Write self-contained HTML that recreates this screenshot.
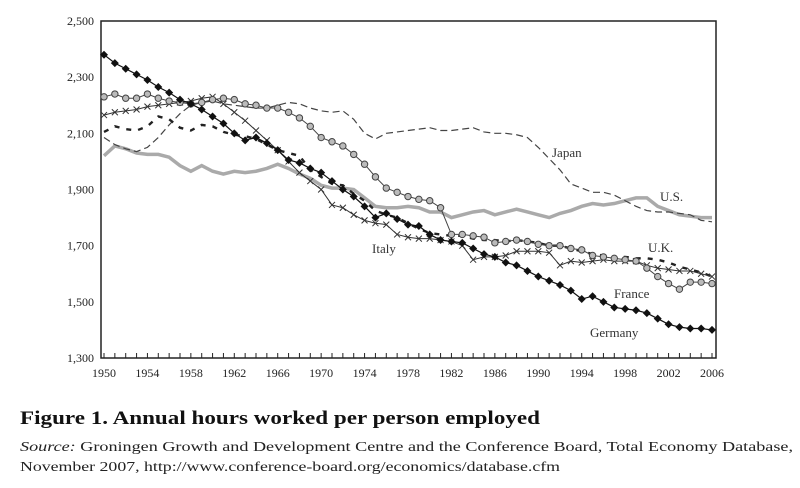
<!DOCTYPE html>
<html><head><meta charset="utf-8"><style>
html,body{margin:0;padding:0;background:#fff;}
svg{display:block;font-family:"Liberation Serif",serif;}
</style></head><body>
<svg id="chart" width="800" height="488" viewBox="0 0 800 488" xmlns="http://www.w3.org/2000/svg">
<rect x="101" y="21" width="615" height="337" fill="none" stroke="#222" stroke-width="1.5"/>
<g id="axes"></g>
<g id="series"></g>
<g font-size="13" fill="#333">
<text x="552" y="157">Japan</text>
<text x="660" y="201">U.S.</text>
<text x="648" y="252">U.K.</text>
<text x="614" y="298">France</text>
<text x="590" y="337">Germany</text>
<text x="372" y="253">Italy</text>
</g>
<text x="20" y="424" font-size="19" font-weight="bold" textLength="520" lengthAdjust="spacingAndGlyphs" fill="#111">Figure 1.  Annual hours worked per person employed</text>
<text x="20" y="451" font-size="14" textLength="773" lengthAdjust="spacingAndGlyphs" fill="#222"><tspan font-style="italic">Source:</tspan> Groningen Growth and Development Centre and the Conference Board, Total Economy Database,</text>
<text x="20" y="471" font-size="14" textLength="540" lengthAdjust="spacingAndGlyphs" fill="#222">November 2007, http://www.conference-board.org/economics/database.cfm</text>
</svg>
<script>
const years = [];
for (let y = 1950; y <= 2006; y++) years.push(y);
const yTicks = [1300, 1500, 1700, 1900, 2100, 2300, 2500];
const yTickLabels = ["1,300","1,500","1,700","1,900","2,100","2,300","2,500"];
const xTickLabels = [1950,1954,1958,1962,1966,1970,1974,1978,1982,1986,1990,1994,1998,2002,2006];
const germany = [2380,2350,2330,2310,2290,2265,2245,2220,2205,2185,2160,2135,2100,2075,2085,2065,2040,2005,1995,1975,1960,1930,1900,1875,1840,1800,1815,1795,1775,1770,1740,1720,1715,1710,1690,1670,1660,1640,1630,1610,1590,1575,1560,1540,1510,1520,1500,1480,1475,1470,1460,1440,1420,1410,1405,1405,1400];
const france = [2230,2240,2225,2225,2240,2225,2215,2210,2205,2210,2220,2225,2220,2205,2200,2190,2190,2175,2155,2125,2085,2070,2055,2025,1990,1945,1905,1890,1875,1865,1860,1835,1740,1740,1735,1730,1710,1715,1720,1715,1705,1700,1700,1690,1685,1665,1660,1655,1650,1645,1620,1590,1565,1545,1570,1570,1565];
const uk = [2165,2175,2180,2185,2195,2200,2205,2210,2215,2225,2230,2205,2175,2145,2110,2075,2040,2000,1960,1930,1900,1845,1835,1810,1790,1780,1775,1740,1730,1725,1725,1720,1715,1700,1650,1660,1660,1665,1680,1680,1680,1675,1630,1645,1640,1645,1650,1645,1645,1645,1630,1620,1615,1610,1610,1600,1590];
const italy = [2105,2125,2115,2110,2125,2160,2150,2120,2110,2130,2125,2105,2095,2090,2080,2060,2040,2030,2020,1970,1945,1920,1915,1885,1860,1825,1810,1800,1780,1760,1745,1740,1735,1735,1725,1720,1720,1715,1720,1715,1710,1700,1700,1690,1680,1670,1665,1660,1660,1655,1655,1650,1640,1625,1615,1605,1590];
const japan = [2085,2060,2045,2035,2050,2085,2130,2170,2200,2210,2215,2205,2200,2195,2190,2190,2200,2210,2205,2190,2180,2175,2180,2150,2100,2080,2100,2105,2110,2115,2120,2110,2110,2115,2120,2105,2100,2100,2095,2085,2050,2010,1970,1920,1905,1890,1890,1880,1860,1840,1825,1820,1820,1815,1810,1790,1785];
const us = [2020,2055,2045,2030,2025,2025,2015,1985,1965,1985,1965,1955,1965,1960,1965,1975,1990,1975,1955,1940,1915,1905,1905,1900,1870,1840,1835,1835,1840,1835,1820,1820,1800,1810,1820,1825,1810,1820,1830,1820,1810,1800,1815,1825,1840,1850,1845,1850,1860,1870,1870,1840,1825,1810,1805,1800,1800];

const NS = "http://www.w3.org/2000/svg";
const xs = yr => 104 + (yr - 1950) * (712 - 104) / 56;
const ys = v => 21 + (2500 - v) * (358 - 21) / 1200;
const axes = document.getElementById('axes');
const ser = document.getElementById('series');
function mk(tag, attrs, parent) {
  const e = document.createElementNS(NS, tag);
  for (const k in attrs) e.setAttribute(k, attrs[k]);
  parent.appendChild(e);
  return e;
}
yTicks.forEach((v, i) => {
  const t = mk('text', {x: 94, y: ys(v) + 4, 'text-anchor': 'end', 'font-size': 12, fill: '#222'}, axes);
  t.textContent = yTickLabels[i];
  
  
});
years.forEach(yr => {
  const l = mk('line', {x1: xs(yr), x2: xs(yr), y1: 358, y2: 353, stroke: '#222', 'stroke-width': 1}, axes);
  
  
});
xTickLabels.forEach(yr => {
  const t = mk('text', {x: xs(yr), y: 377, 'text-anchor': 'middle', 'font-size': 12, fill: '#222'}, axes);
  t.textContent = yr;
  
  
});
function pts(arr) { return arr.map((v, i) => xs(years[i]) + ',' + ys(v)).join(' '); }
function line(arr, name, attrs) {
  const p = mk('polyline', Object.assign({points: pts(arr), fill: 'none'}, attrs), ser);
  
  
  return p;
}
line(us, 'us-line', {stroke: '#aaa', 'stroke-width': 3.5});
line(japan, 'japan-line', {stroke: '#444', 'stroke-width': 1.2, 'stroke-dasharray': '7,4'});
line(italy, 'italy-line', {stroke: '#222', 'stroke-width': 2.4, 'stroke-dasharray': '5,7'});
line(uk, 'uk-line', {stroke: '#333', 'stroke-width': 1});
uk.forEach((v, i) => {
  const x = xs(years[i]), y = ys(v);
  const p = mk('path', {d: `M${x-3},${y-3}L${x+3},${y+3}M${x-3},${y+3}L${x+3},${y-3}`, stroke: '#333', 'stroke-width': 1}, ser);
  
  
});
line(france, 'france-line', {stroke: '#444', 'stroke-width': 1});
france.forEach((v, i) => {
  const c = mk('circle', {cx: xs(years[i]), cy: ys(v), r: 3.2, fill: '#bbb', stroke: '#444', 'stroke-width': 1}, ser);
  
  
});
line(germany, 'germany-line', {stroke: '#111', 'stroke-width': 1.2});
germany.forEach((v, i) => {
  const x = xs(years[i]), y = ys(v);
  const p = mk('path', {d: `M${x},${y-4}L${x+4},${y}L${x},${y+4}L${x-4},${y}Z`, fill: '#111'}, ser);
  
  
});
</script>
</body></html>
